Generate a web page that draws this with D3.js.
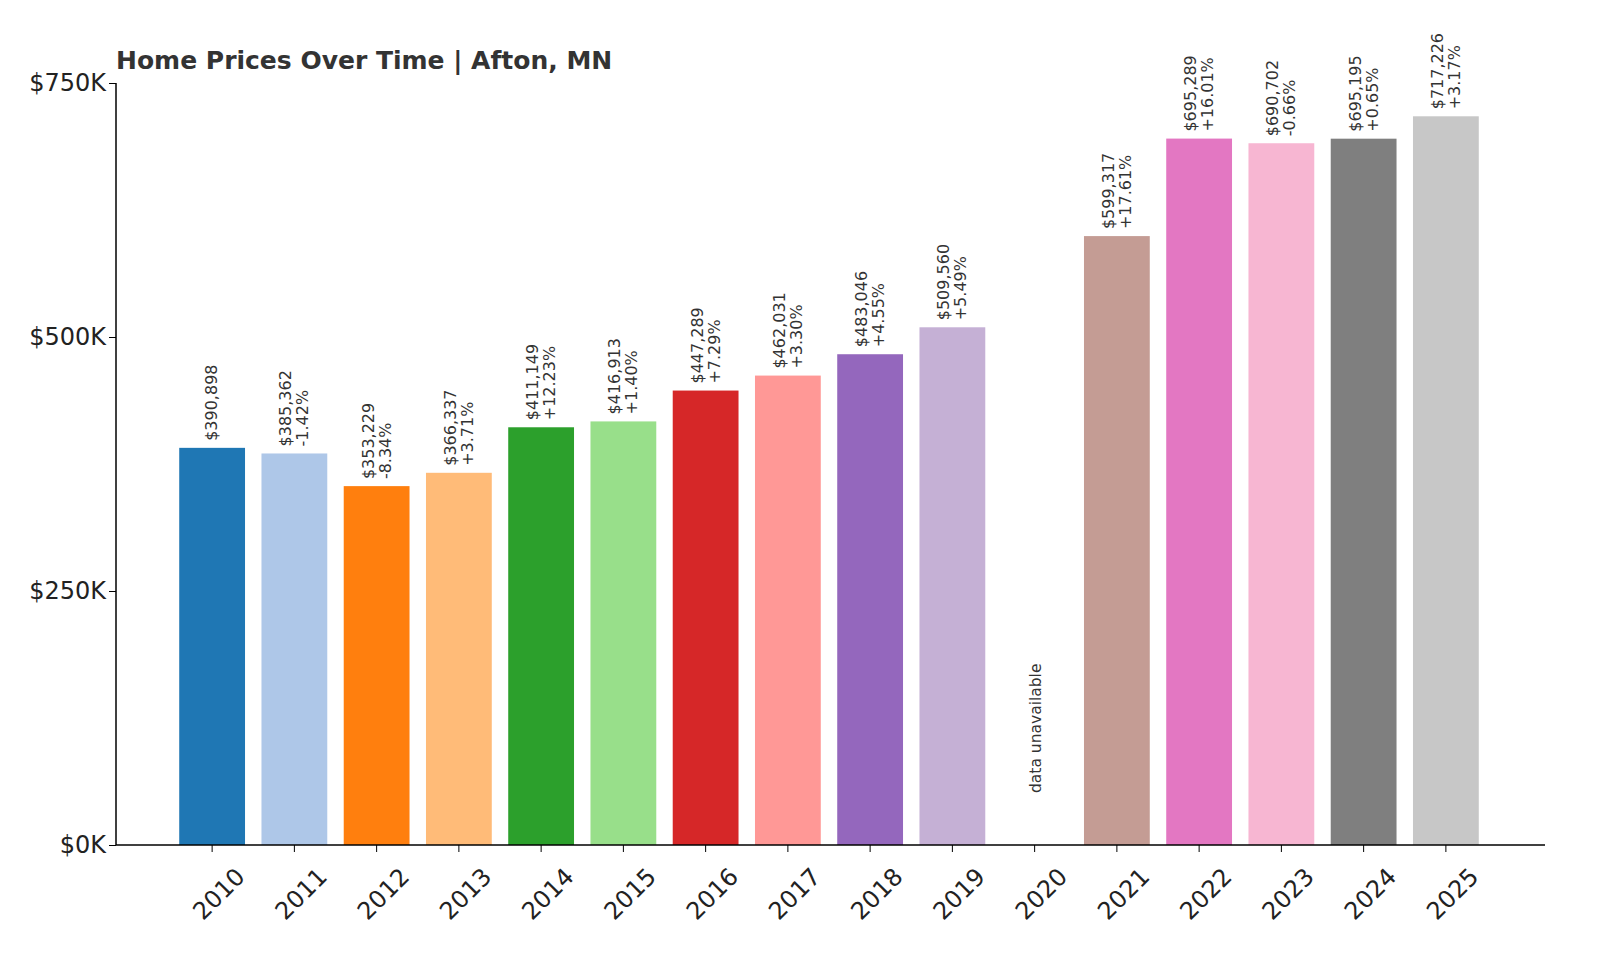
<!DOCTYPE html>
<html><head><meta charset="utf-8">
<script src="https://cdn.jsdelivr.net/npm/d3@7"></script>
<style>body{margin:0;background:#fff}</style></head>
<body><svg id="c" width="1600" height="960"></svg>
<script>
const years=["2010","2011","2012","2013","2014","2015","2016","2017","2018","2019","2020","2021","2022","2023","2024","2025"];
const values=[390898,385362,353229,366337,411149,416913,447289,462031,483046,509560,null,599317,695289,690702,695195,717226];
const changes=["","-1.42%","-8.34%","+3.71%","+12.23%","+1.40%","+7.29%","+3.30%","+4.55%","+5.49%","","+17.61%","+16.01%","-0.66%","+0.65%","+3.17%"];
const colors=["#1f77b4","#aec7e8","#ff7f0e","#ffbb78","#2ca02c","#98df8a","#d62728","#ff9896","#9467bd","#c5b0d5","#8c564b","#c49c94","#e377c2","#f7b6d2","#7f7f7f","#c7c7c7"];
const yTicks=[0,250000,500000,750000];
const svg=d3.select("#c");
const font="DejaVu Sans, sans-serif";
const x=d3.scaleBand().domain(years).range([171,1487]).paddingInner(0.2).paddingOuter(0.1);
const y=d3.scaleLinear().domain([0,750000]).range([845,83]);
const bw=x.bandwidth();
years.forEach((yr,i)=>{
  const v=values[i], cx=x(yr)+bw/2;
  if(v==null){
    svg.append("text").attr("transform",`translate(${cx+6},${y(0)-52}) rotate(-90)`)
      .attr("font-family",font).attr("font-size",15.5).attr("fill","#333").text("data unavailable");
    return;
  }
  svg.append("rect").attr("x",x(yr)).attr("width",bw).attr("y",y(v)).attr("height",y(0)-y(v)).attr("fill",colors[i]);
  const t=svg.append("text").attr("transform",`translate(${cx},${y(v)-7}) rotate(-90)`)
    .attr("font-family",font).attr("font-size",16).attr("fill","#333");
  if(changes[i]){
    t.append("tspan").attr("x",0).attr("dy",-3).text("$"+d3.format(",")(v));
    t.append("tspan").attr("x",0).attr("dy",17).text(changes[i]);
  } else {
    t.append("tspan").attr("x",0).attr("dy",5).text("$"+d3.format(",")(v));
  }
});
const ya=svg.append("g").attr("transform","translate(116,0)")
  .call(d3.axisLeft(y).tickValues(yTicks).tickSize(7).tickFormat(d=>"$"+d/1000+"K"));
ya.selectAll("text").attr("font-family",font).attr("font-size",24).attr("fill","#222");
ya.select(".domain").attr("stroke","#000").attr("stroke-width",1.5).attr("d","M0,845V83");
const xa=svg.append("g").attr("transform","translate(0,845)")
  .call(d3.axisBottom(x).tickSize(7));
xa.select(".domain").attr("stroke","#000").attr("stroke-width",1.5).attr("d","M116,0H1545");
xa.selectAll("text").attr("font-family",font).attr("font-size",24).attr("fill","#222")
  .attr("text-anchor","end").attr("transform","translate(15,14) rotate(-45)");
svg.append("text").attr("x",116).attr("y",69).attr("font-family",font).attr("font-weight","bold")
  .attr("font-size",25).attr("fill","#333").text("Home Prices Over Time | Afton, MN");
</script></body></html>
